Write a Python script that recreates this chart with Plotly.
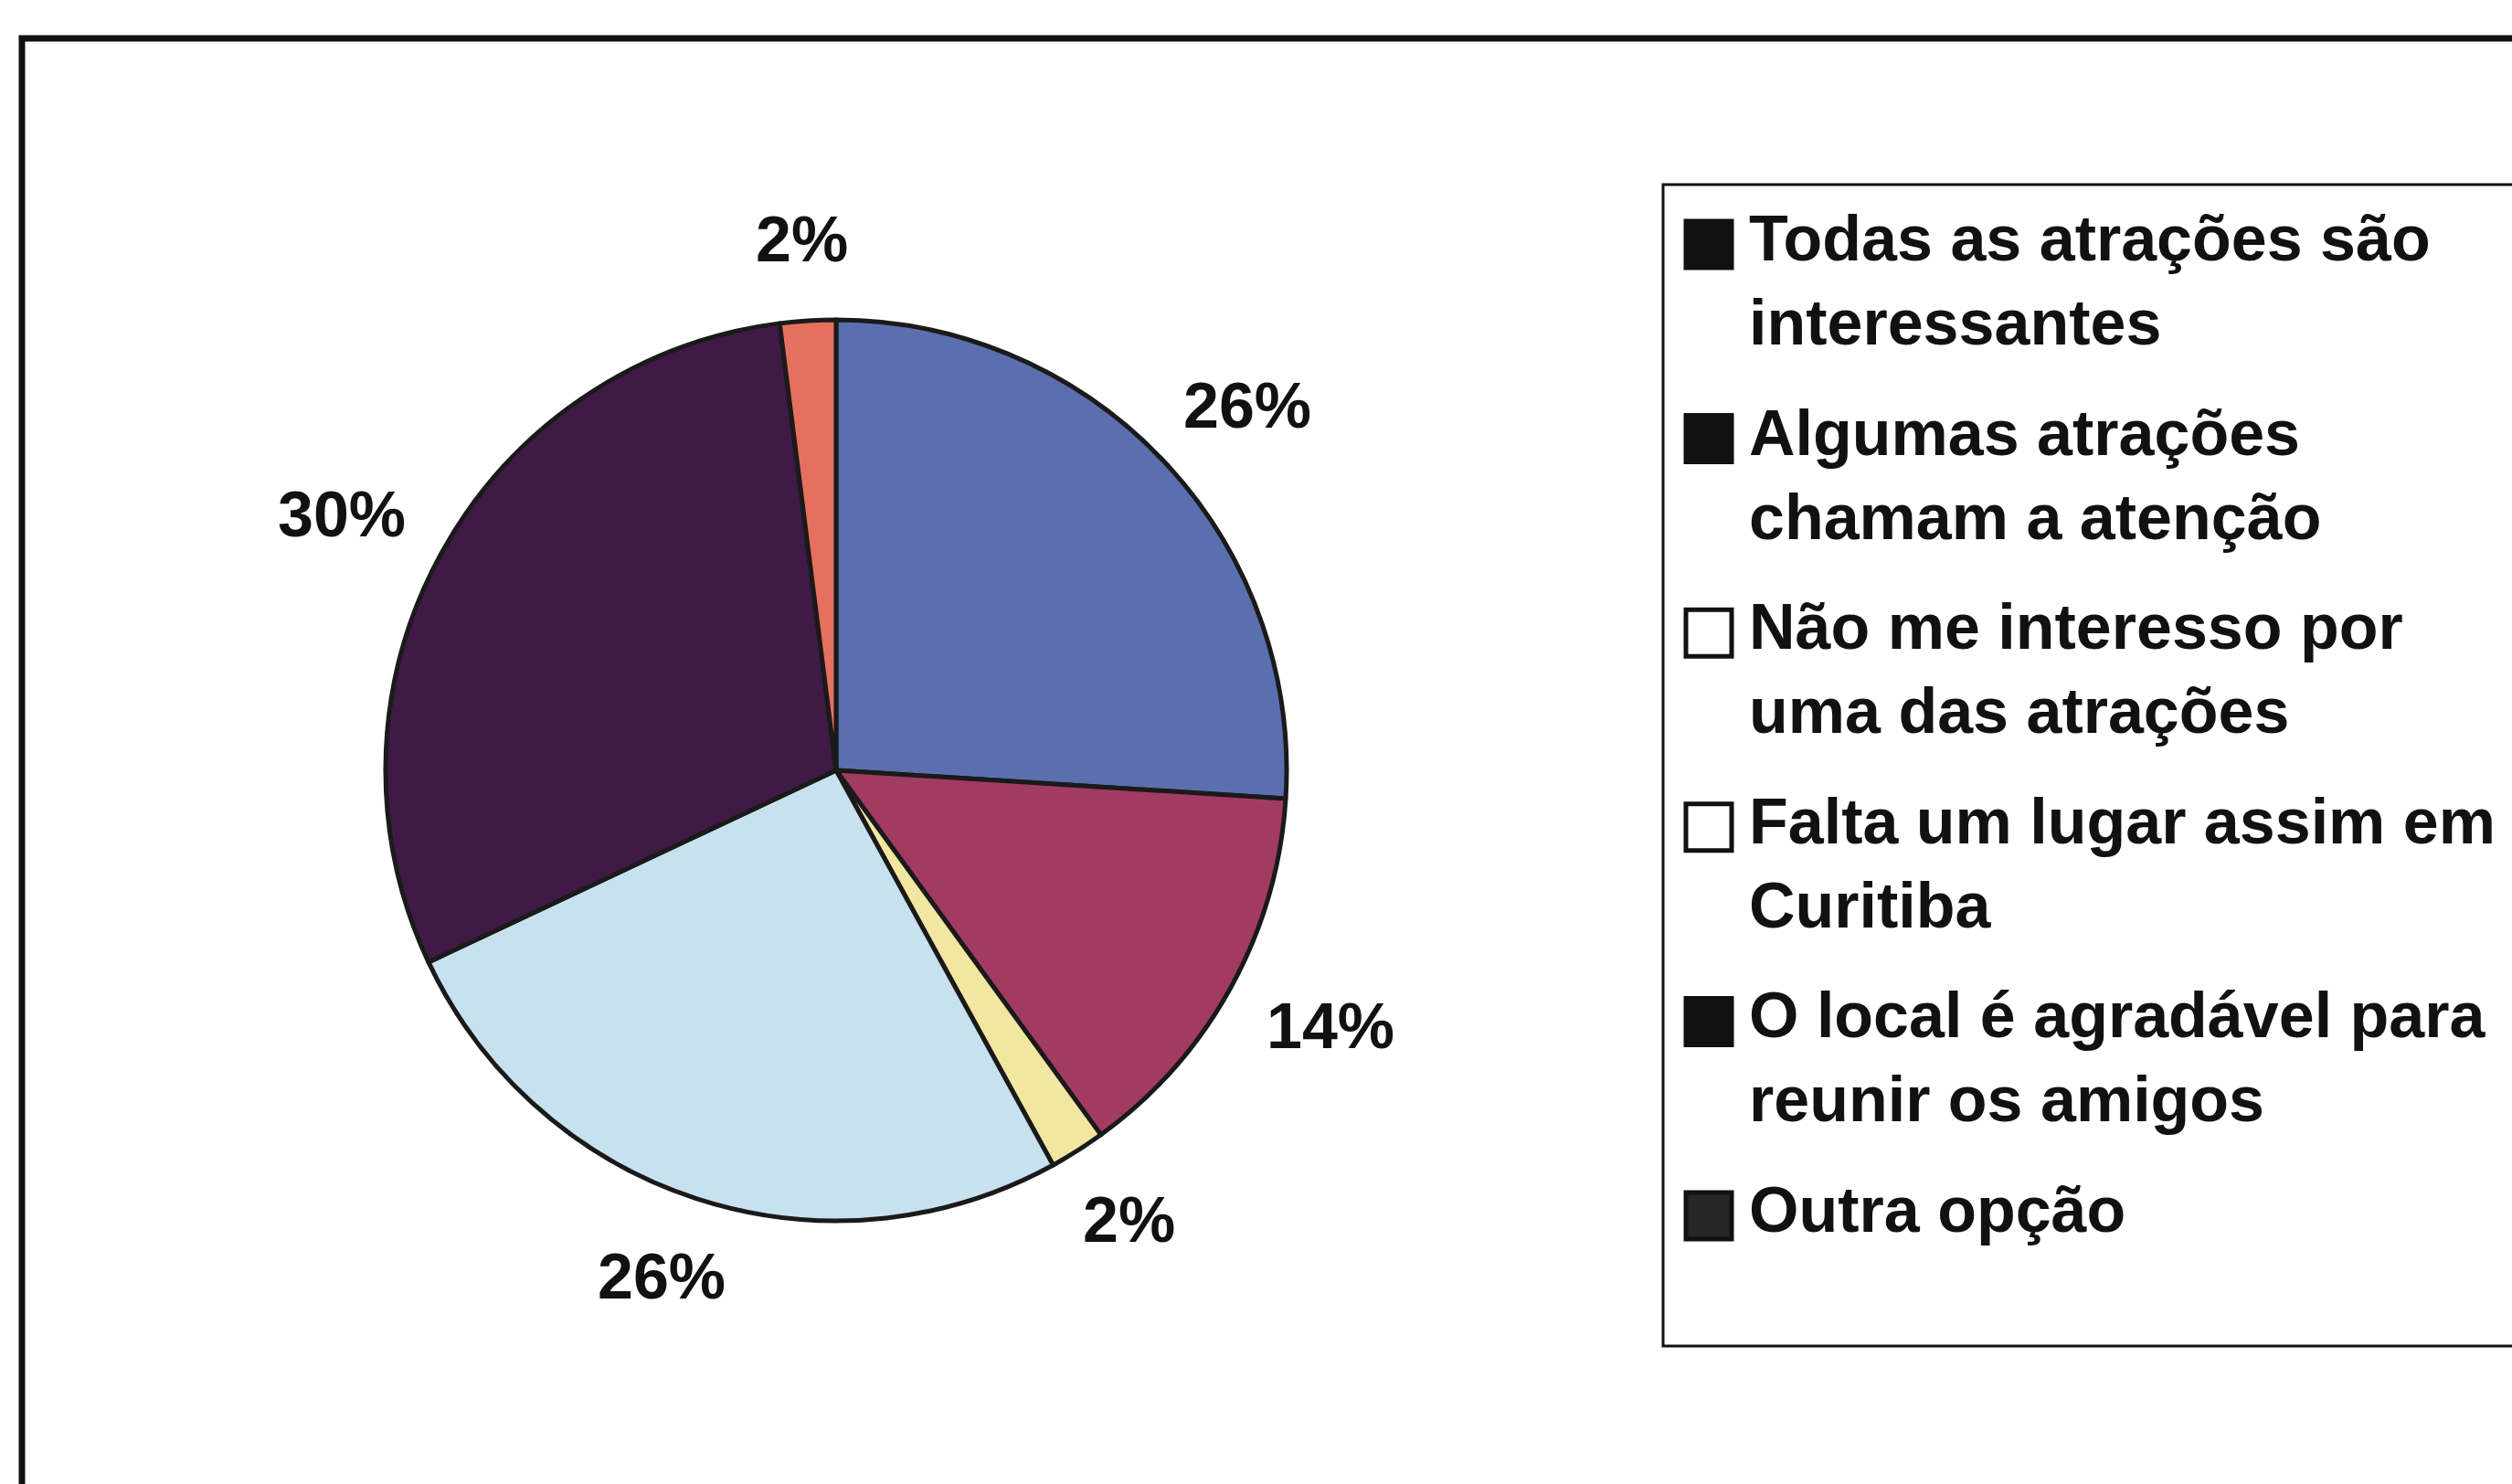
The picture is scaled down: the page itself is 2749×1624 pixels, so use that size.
import math
import plotly.graph_objects as go

# Survey answers and their shares (%)
categories = [
    "Todas as atrações são interessantes",
    "Algumas atrações chamam a atenção",
    "Não me interesso por uma das atrações",
    "Falta um lugar assim em Curitiba",
    "O local é agradável para reunir os amigos",
    "Outra opção",
]
values = [26, 14, 2, 26, 30, 2]
slice_colors = ["#5b6fae", "#a23b62", "#f2e6a0", "#c8e1ee", "#3f1a45", "#e6705f"]

# Legend lines (wrapped as printed) and swatch styles
legend_lines = [
    ["Todas as atrações são", "interessantes"],
    ["Algumas atrações", "chamam a atenção"],
    ["Não me interesso por", "uma das atrações"],
    ["Falta um lugar assim em", "Curitiba"],
    ["O local é agradável para", "reunir os amigos"],
    ["Outra opção"],
]
swatch_fill = ["#111111", "#111111", "#ffffff", "#ffffff", "#111111", "#262626"]

W, H = 2749, 1624
FONT = "Liberation Sans, Arial, sans-serif"
FS = 70

# Pie geometry in pixels
cx, cy, R = 915, 843, 493


def px(x):
    return x / W


def py(y):
    return 1 - y / H


def text_width(s, size):
    # approximate advance widths of Arial-like bold glyphs
    widths = {"%": 0.889}
    return sum(widths.get(ch, 0.556) for ch in s) * size


fig = go.Figure()
fig.add_trace(go.Pie(
    labels=categories,
    values=values,
    sort=False,
    direction="clockwise",
    rotation=0,
    marker=dict(colors=slice_colors, line=dict(color="#1a1a1a", width=5)),
    textinfo="none",
    hoverinfo="label+percent",
    showlegend=False,
    domain=dict(x=[px(cx - R), px(cx + R)], y=[py(cy + R), py(cy - R)]),
))

annotations = []
# Percentage labels set outside each slice: anchor point on a ring at the
# slice mid-angle, label box pushed outward by half its size
total = sum(values)
cum = 0
ring = 1.11 * R
for v in values:
    mid = (cum + v / 2) / total * 2 * math.pi
    cum += v
    txt = f"{round(v / total * 100)}%"
    dx, dy = math.sin(mid), -math.cos(mid)
    w, h = text_width(txt, FS), FS
    lx = cx + ring * dx + dx * w / 2
    ly = cy + ring * dy + dy * h / 2
    annotations.append(dict(
        x=px(lx), y=py(ly), xref="paper", yref="paper",
        text=txt, showarrow=False,
        xanchor="center", yanchor="middle",
        font=dict(family=FONT, size=FS, color="#111111", weight="bold"),
    ))

shapes = []
# Outer chart frame
shapes.append(dict(type="rect", xref="paper", yref="paper",
                   x0=px(24), x1=px(W + 40), y0=py(H + 40), y1=py(42),
                   line=dict(color="#111111", width=7), fillcolor="rgba(0,0,0,0)"))
# Legend box
shapes.append(dict(type="rect", xref="paper", yref="paper",
                   x0=px(1820), x1=px(W + 40), y0=py(1473), y1=py(202),
                   line=dict(color="#111111", width=3), fillcolor="rgba(0,0,0,0)"))

first_baseline = 285
entry_step = 212.6
line_step = 92
for i, lines in enumerate(legend_lines):
    base = first_baseline + i * entry_step
    # swatch
    shapes.append(dict(type="rect", xref="paper", yref="paper",
                       x0=px(1845), x1=px(1895), y0=py(base + 8), y1=py(base - 43),
                       line=dict(color="#111111", width=5), fillcolor=swatch_fill[i]))
    for j, txt in enumerate(lines):
        b = base + j * line_step
        annotations.append(dict(
            x=px(1912), y=py(b - 24), xref="paper", yref="paper",
            text=txt, showarrow=False, xanchor="left", yanchor="middle",
            font=dict(family=FONT, size=FS, color="#111111", weight="bold"),
        ))

fig.update_layout(
    width=W, height=H,
    margin=dict(l=0, r=0, t=0, b=0),
    paper_bgcolor="white", plot_bgcolor="white",
    shapes=shapes, annotations=annotations,
)

fig.write_html("out.html")
